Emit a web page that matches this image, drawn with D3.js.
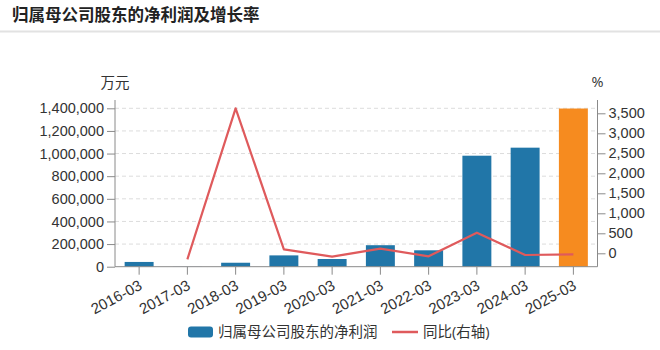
<!DOCTYPE html>
<html>
<head>
<meta charset="utf-8">
<script src="https://cdn.jsdelivr.net/npm/d3@7"></script>
<style>
  html, body { margin: 0; padding: 0; background: #fff; }
  svg { display: block; font-family: "Open Sans", "Noto Sans CJK SC", sans-serif; }
</style>
</head>
<body>
<svg id="chart" width="660" height="350"></svg>
<script>
// Reporting periods
const periods = ["2016-03", "2017-03", "2018-03", "2019-03", "2020-03",
                 "2021-03", "2022-03", "2023-03", "2024-03", "2025-03"];
// Net profit attributable to parent shareholders (万元)
const netProfit = [42000, 1000, 35000, 100000, 68000, 190000, 145000, 981000, 1052000, 1398000];
// Year-on-year growth (%), right axis
const growth = [null, -150, 3625, 100, -85, 115, -75, 515, -42, -25];
// Axis ticks
const leftTicks = [0, 200000, 400000, 600000, 800000, 1000000, 1200000, 1400000];
const rightTicks = [0, 500, 1000, 1500, 2000, 2500, 3000, 3500];

const title = "归属母公司股东的净利润及增长率";
const leftUnit = "万元";
const rightUnit = "%";
const barLegend = "归属母公司股东的净利润";
const lineLegend = "同比(右轴)";

const blue = "#2176a8";
const orange = "#f68b1f";
const red = "#df5a5c";
const axisColor = "#8a8a8a";
const textColor = "#333";
const fontSize = 14.5;

const svg = d3.select("#chart");
const plotLeft = 115, plotRight = 597.5, plotTop = 108.3, plotBottom = 266.7, axisTop = 100;

// Title and separator
svg.append("text").attr("x", 12).attr("y", 21)
  .attr("font-size", 16.5).attr("font-weight", "bold").attr("fill", "#222")
  .text(title);
svg.append("rect").attr("x", 0).attr("y", 30.5).attr("width", 660).attr("height", 2)
  .attr("fill", "#e2e2e2");

const x = d3.scaleBand().domain(periods).range([plotLeft, plotRight])
  .paddingInner(0.4).paddingOuter(0.2);
const yL = d3.scaleLinear().domain([0, 1400000]).range([plotBottom, plotTop]);
const yR = d3.scaleLinear().domain([-335, 3625]).range([plotBottom, plotTop]);

// Horizontal grid from the left axis
svg.append("g").selectAll("line").data(leftTicks.slice(1)).join("line")
  .attr("x1", plotLeft).attr("x2", plotRight)
  .attr("y1", d => yL(d)).attr("y2", d => yL(d))
  .attr("stroke", "#dcdcdc").attr("stroke-dasharray", "4,3");

// Bars: the latest period is highlighted
svg.append("g").selectAll("rect").data(periods).join("rect")
  .attr("x", d => x(d))
  .attr("width", x.bandwidth())
  .attr("y", (d, i) => yL(netProfit[i]))
  .attr("height", (d, i) => yL(0) - yL(netProfit[i]))
  .attr("fill", (d, i) => i === periods.length - 1 ? orange : blue);

// Growth line
const line = d3.line()
  .defined(d => d.v !== null)
  .x(d => x(d.p) + x.bandwidth() / 2)
  .y(d => yR(d.v));
svg.append("path")
  .datum(periods.map((p, i) => ({ p, v: growth[i] })))
  .attr("d", line).attr("fill", "none")
  .attr("stroke", red).attr("stroke-width", 2.2).attr("stroke-linejoin", "round");

// Axes
function styleAxis(g) {
  g.select(".domain").remove();
  g.selectAll(".tick line").attr("stroke", axisColor);
  g.selectAll(".tick text").attr("fill", textColor).attr("font-size", fontSize);
}
svg.append("g").attr("transform", `translate(${plotLeft},0)`)
  .call(d3.axisLeft(yL).tickValues(leftTicks).tickFormat(d3.format(",")).tickSize(8).tickPadding(3))
  .call(styleAxis);
svg.append("g").attr("transform", `translate(${plotRight},0)`)
  .call(d3.axisRight(yR).tickValues(rightTicks).tickFormat(d3.format(",")).tickSize(8).tickPadding(3))
  .call(styleAxis);
const xg = svg.append("g").attr("transform", `translate(0,${plotBottom})`)
  .call(d3.axisBottom(x).tickSize(8).tickSizeOuter(0))
  .call(styleAxis);
xg.selectAll(".tick text")
  .attr("font-size", 15)
  .attr("text-anchor", "end").attr("dy", null)
  .attr("transform", "translate(4,22) rotate(-28)")
  .attr("y", 0).attr("x", 0);

// Axis lines
svg.append("line").attr("x1", plotLeft).attr("x2", plotLeft).attr("y1", axisTop).attr("y2", plotBottom)
  .attr("stroke", axisColor);
svg.append("line").attr("x1", plotRight).attr("x2", plotRight).attr("y1", axisTop).attr("y2", plotBottom)
  .attr("stroke", axisColor);
svg.append("line").attr("x1", plotLeft).attr("x2", plotRight).attr("y1", plotBottom).attr("y2", plotBottom)
  .attr("stroke", axisColor);

// Axis units
svg.append("text").attr("x", plotLeft).attr("y", 88).attr("text-anchor", "middle")
  .attr("font-size", fontSize).attr("fill", textColor).text(leftUnit);
svg.append("text").attr("x", plotRight).attr("y", 87).attr("text-anchor", "middle")
  .attr("font-size", fontSize).attr("fill", textColor).text(rightUnit);

// Legend
const lg = svg.append("g");
lg.append("rect").attr("x", 188).attr("y", 326.5).attr("width", 25).attr("height", 11)
  .attr("rx", 3).attr("fill", blue);
lg.append("text").attr("x", 218).attr("y", 337).attr("font-size", fontSize).attr("fill", textColor)
  .text(barLegend);
lg.append("line").attr("x1", 392).attr("x2", 418).attr("y1", 332).attr("y2", 332)
  .attr("stroke", red).attr("stroke-width", 2.5);
lg.append("text").attr("x", 423).attr("y", 337).attr("font-size", fontSize).attr("fill", textColor)
  .text(lineLegend);
</script>
</body>
</html>
